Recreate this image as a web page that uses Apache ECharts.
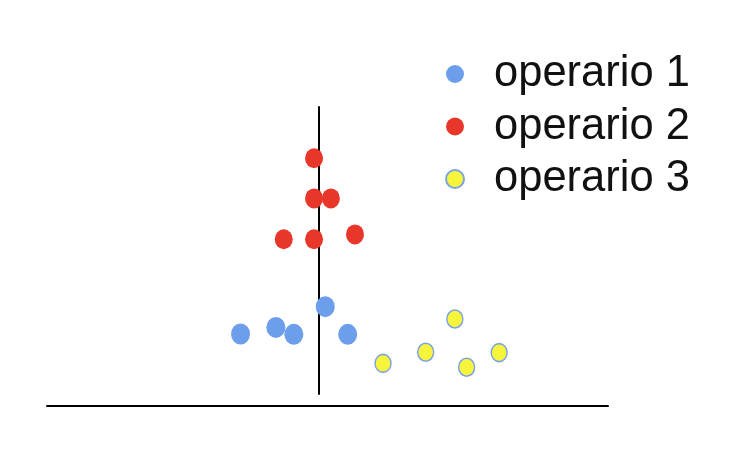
<!DOCTYPE html>
<html>
<head>
<meta charset="utf-8">
<script src="https://cdn.jsdelivr.net/npm/echarts@6/dist/echarts.min.js"></script>
<style>html,body{margin:0;padding:0;background:#fff}#c{width:740px;height:462px}</style>
</head>
<body>
<div id="c"></div>
<script>
const seriesNames = ['operario 1', 'operario 2', 'operario 3'];
const op1X = [34.5, 40.8, 44.0, 49.6, 53.6];
const op1Y = [24.0, 26.2, 23.9, 33.1, 23.9];
const op2X = [47.6, 47.6, 50.6, 42.2, 47.6, 54.9];
const op2Y = [82.6, 69.2, 69.2, 55.6, 55.6, 57.2];
const op3X = [59.9, 67.5, 72.7, 74.8, 80.6];
const op3Y = [14.2, 17.9, 29.0, 12.9, 17.8];

const pair = (xs, ys) => xs.map((x, i) => [x, ys[i]]);
const chart = echarts.init(document.getElementById('c'), null, {renderer: 'canvas'});
chart.setOption({
  animation: false,
  backgroundColor: '#ffffff',
  grid: [
    {left: 47, right: 132, top: 106, bottom: 56},
    {left: 319, width: 1, top: 107, bottom: 68}
  ],
  xAxis: [
    {type: 'value', gridIndex: 0, min: 0, max: 100,
     axisLine: {show: true, lineStyle: {color: '#000', width: 2}},
     axisTick: {show: false}, axisLabel: {show: false}, splitLine: {show: false}},
    {type: 'value', gridIndex: 1, show: false}
  ],
  yAxis: [
    {type: 'value', gridIndex: 0, min: 0, max: 100, show: false},
    {type: 'value', gridIndex: 1, min: 0, max: 1,
     axisLine: {show: true, lineStyle: {color: '#000', width: 2}},
     axisTick: {show: false}, axisLabel: {show: false}, splitLine: {show: false}}
  ],
  legend: {
    orient: 'vertical',
    left: 440,
    top: 47,
    icon: 'circle',
    itemWidth: 18,
    itemHeight: 18,
    itemGap: 8.5,
    textStyle: {
      fontFamily: 'Liberation Sans, Arial, sans-serif',
      fontSize: 43.5,
      lineHeight: 42,
      color: '#111',
      padding: [0, 0, 0, 25]
    },
    data: seriesNames
  },
  series: [
    {name: seriesNames[0], type: 'scatter', symbol: 'circle', symbolSize: [19, 21],
     itemStyle: {color: '#6d9eeb', opacity: 1}, data: pair(op1X, op1Y)},
    {name: seriesNames[1], type: 'scatter', symbol: 'circle', symbolSize: [18, 20],
     itemStyle: {color: '#e8372a', opacity: 1}, data: pair(op2X, op2Y)},
    {name: seriesNames[2], type: 'scatter', symbol: 'circle', symbolSize: [16, 18],
     itemStyle: {color: '#f7f53b', borderColor: '#7aa3e6', borderWidth: 1.5, opacity: 1}, data: pair(op3X, op3Y)}
  ]
});
</script>
</body>
</html>
